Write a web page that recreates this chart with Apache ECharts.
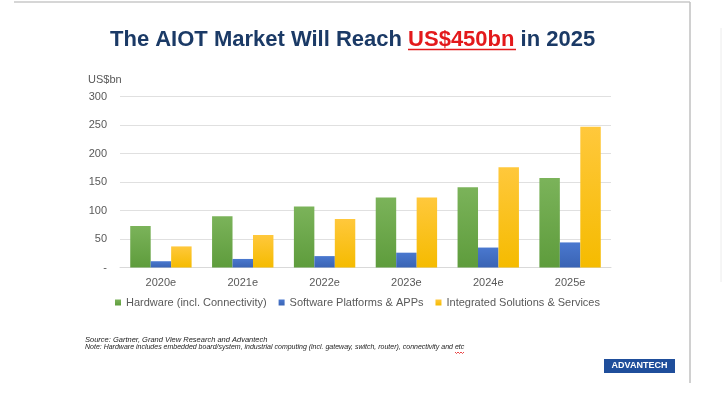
<!DOCTYPE html>
<html>
<head>
<meta charset="utf-8">
<script src="https://cdn.jsdelivr.net/npm/echarts@6/dist/echarts.min.js"></script>
<style>
html,body{margin:0;padding:0;background:#fff;}
#c{width:722px;height:396px;}
</style>
</head>
<body>
<div id="c"></div>
<script>
var categories = ['2020e', '2021e', '2022e', '2023e', '2024e', '2025e'];
var hardware = [73, 90, 107, 123, 141, 157];
var software = [11, 15, 20, 26, 35, 44];
var integrated = [37, 57, 85, 123, 176, 247];
var seriesNames = ['Hardware (incl. Connectivity)', 'Software Platforms & APPs', 'Integrated Solutions & Services'];

function grad(top, bottom) {
  return new echarts.graphic.LinearGradient(0, 0, 0, 1, [
    {offset: 0, color: top}, {offset: 1, color: bottom}
  ]);
}

var chart = echarts.init(document.getElementById('c'));
var font = '"Liberation Sans", Arial, sans-serif';
chart.setOption({
  animation: false,
  textStyle: {fontFamily: font},
  title: {
    left: 105,
    top: 24,
    text: '{a|The AIOT Market Will Reach }{b|US$450bn}{a| in 2025}',
    textStyle: {
      rich: {
        a: {fontSize: 22, fontWeight: 'bold', color: '#1B3A66', fontFamily: font},
        b: {fontSize: 22, fontWeight: 'bold', color: '#E3191B', fontFamily: font}
      }
    }
  },
  grid: {left: 120, right: 111, top: 96.5, bottom: 128.5},
  legend: {
    left: 115,
    top: 297,
    padding: 0,
    icon: 'rect',
    itemWidth: 6,
    itemHeight: 6,
    itemGap: 12,
    itemTextGap: 2,
    textStyle: {fontSize: 11, color: '#595959', fontFamily: font},
    data: seriesNames
  },
  xAxis: {
    type: 'category',
    data: categories,
    axisTick: {show: false},
    axisLine: {lineStyle: {color: '#d9d9d9'}},
    axisLabel: {color: '#595959', fontSize: 11, margin: 10}
  },
  yAxis: {
    type: 'value',
    min: 0,
    max: 300,
    interval: 50,
    axisLine: {show: false},
    axisTick: {show: false},
    splitLine: {lineStyle: {color: '#e0e0e0'}},
    axisLabel: {
      color: '#595959', fontSize: 11, margin: 13,
      formatter: function (v) { return v === 0 ? '-' : String(v); }
    }
  },
  series: [
    {name: seriesNames[0], type: 'bar', data: hardware, barGap: '0%', barCategoryGap: '25%',
     itemStyle: {color: grad('#7BB35A', '#5E9C3C')}},
    {name: seriesNames[1], type: 'bar', data: software,
     itemStyle: {color: grad('#4A78CF', '#3A64B4')}},
    {name: seriesNames[2], type: 'bar', data: integrated,
     itemStyle: {color: grad('#FFC83C', '#F5BB00')}}
  ],
  graphic: [
    {type: 'line', shape: {x1: 14, y1: 2, x2: 690, y2: 2}, style: {stroke: '#c8c8c8', lineWidth: 1.5}, silent: true},
    {type: 'line', shape: {x1: 690, y1: 2, x2: 690, y2: 383}, style: {stroke: '#c0c0c0', lineWidth: 1.5}, silent: true},
    {type: 'line', shape: {x1: 721, y1: 28, x2: 721, y2: 282}, style: {stroke: '#ececec', lineWidth: 1}, silent: true},
    {type: 'line', shape: {x1: 408, y1: 49.5, x2: 516, y2: 49.5}, style: {stroke: '#E3191B', lineWidth: 1.5}, silent: true},
    {type: 'text', left: 88, top: 74, style: {text: 'US$bn', fontSize: 11, fill: '#595959', fontFamily: font}},
    {type: 'text', left: 85, top: 336, style: {text: 'Source: Gartner, Grand View Research and Advantech', fontSize: 7.5, fontStyle: 'italic', fill: '#222', fontFamily: font}},
    {type: 'text', left: 85, top: 344, style: {text: 'Note: Hardware includes embedded board/system, industrial computing (incl. gateway, switch, router), connectivity and etc', fontSize: 7, fontStyle: 'italic', fill: '#222', fontFamily: font}},
    {type: 'polyline', shape: {points: [[455, 352], [456.5, 353.5], [458, 352], [459.5, 353.5], [461, 352], [462.5, 353.5], [464, 352]]}, style: {stroke: '#E3191B', lineWidth: 0.8, fill: null}, silent: true},
    {type: 'rect', shape: {x: 604, y: 359, width: 71, height: 14}, style: {fill: '#1F4E9B'}, silent: true},
    {type: 'text', x: 639.5, y: 366, style: {text: 'ADVANTECH', fontSize: 9, fontWeight: 'bold', fill: '#fff', align: 'center', verticalAlign: 'middle', fontFamily: font}}
  ]
});
</script>
</body>
</html>
